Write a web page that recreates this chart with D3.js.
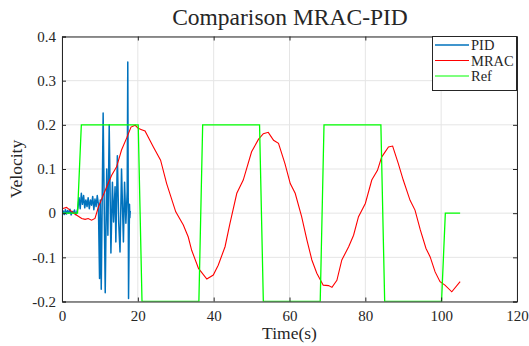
<!DOCTYPE html>
<html><head><meta charset="utf-8">
<script src="https://cdn.jsdelivr.net/npm/d3@7"></script>
<style>body{margin:0;background:#fff}svg text{font-family:"Liberation Serif","DejaVu Serif",serif;fill:#262626}</style>
</head><body><svg id="c" width="529" height="346"></svg>
<script>
const xTicks=[0,20,40,60,80,100,120];
const yTicks=[-0.2,-0.1,0,0.1,0.2,0.3,0.4];
const yTickLabels=["-0.2","-0.1","0","0.1","0.2","0.3","0.4"];
const seriesNames=["PID","MRAC","Ref"];
const pidT=[0,0.3,0.6,0.9,1.2,1.5,1.8,2.1,2.4,2.7,3.0,3.3,3.6,3.9,4.2,4.5,4.8,5.1,5.4,5.7,6.0,6.3,6.6,6.9,7.2,7.5,7.8,8.1,8.4,8.7,9.0,9.3,9.6,9.9,10.1,10.35,10.85,11.4,11.8,12.1,12.45,12.9,13.3,13.6,14.0,14.2,14.6,14.95,15.3,15.7,16.2,16.5,16.85,17.2,17.35,17.55,17.8,17.9,18.0];
const pidV=[0,0.005,-0.003,0.008,-0.002,0.006,0,0.009,-0.004,0.004,0,0.007,-0.003,0.002,0.012,0.035,0.01,0.045,0.02,0.04,0.012,0.03,0.015,0.035,0.01,0.03,0.018,0.038,0.008,0.032,0.015,0.04,0.02,-0.148,0.03,-0.172,0.227,-0.18,0.10,-0.05,0.2,-0.09,0.07,-0.02,0.06,-0.065,0.13,-0.02,-0.088,0.10,-0.065,0.07,-0.023,0.05,0.342,-0.193,0.02,-0.01,0.005];
const mracT=[0,1.2,2.1,3.4,5.2,6.1,6.9,7.8,8.7,9.6,10.5,11.8,13.1,14.4,15.7,17.1,18.2,19.3,20.1,21.0,21.9,24.1,26.0,27.6,30.0,32.0,33.3,34.2,36.0,38.2,39.9,41.2,43.0,44.3,46.1,47.8,50.0,51.8,53.1,54.4,55.8,57.1,58.8,60.2,61.5,63.2,64.6,65.9,67.2,68.9,70.3,71.2,72.5,73.8,75.6,76.9,78.2,80.0,81.7,83.2,84.3,86.1,87.2,88.7,90.0,91.8,93.1,94.5,96.0,97.1,98.4,99.7,101.0,102.8,105.0];
const mracV=[0.01,0.013,0.007,-0.002,-0.012,-0.014,-0.012,-0.016,-0.012,0.014,0.033,0.06,0.086,0.105,0.143,0.171,0.195,0.199,0.192,0.189,0.186,0.15,0.12,0.067,0.003,-0.027,-0.054,-0.084,-0.125,-0.149,-0.14,-0.118,-0.076,-0.023,0.045,0.075,0.139,0.167,0.18,0.183,0.165,0.158,0.112,0.067,0.045,-0.008,-0.061,-0.106,-0.136,-0.163,-0.164,-0.168,-0.152,-0.106,-0.076,-0.05,-0.008,0.022,0.075,0.097,0.127,0.15,0.152,0.112,0.075,0.029,0.007,-0.038,-0.08,-0.099,-0.133,-0.155,-0.163,-0.178,-0.155];
const refT=[0,4.1,5.1,20.1,21.1,36.1,37.1,52.1,53.1,68.1,69.1,84.1,85.1,100.1,101.1,105];
const refV=[0,0,0.2,0.2,-0.2,-0.2,0.2,0.2,-0.2,-0.2,0.2,0.2,-0.2,-0.2,0,0];

const svg=d3.select("#c");
const L=62,R=517,T=36.5,B=301.5;
const x=d3.scaleLinear().domain([0,120]).range([L,R]);
const y=d3.scaleLinear().domain([-0.2,0.4]).range([B,T]);
const ax="#262626";
const FF="'Liberation Serif', 'DejaVu Serif', serif";
const g=svg.append("g");
g.selectAll(".gx").data(xTicks).join("line").attr("x1",d=>x(d)).attr("x2",d=>x(d)).attr("y1",T).attr("y2",B).attr("stroke","#e5e5e5").attr("stroke-width",1);
g.selectAll(".gy").data(yTicks).join("line").attr("y1",d=>y(d)).attr("y2",d=>y(d)).attr("x1",L).attr("x2",R).attr("stroke","#e5e5e5").attr("stroke-width",1);
svg.append("clipPath").attr("id","cp").append("rect").attr("x",L).attr("y",T).attr("width",R-L).attr("height",B-T);
const line=d3.line().x(d=>x(d[0])).y(d=>y(d[1]));
const plot=svg.append("g").attr("clip-path","url(#cp)");
plot.append("path").datum(pidT.map((t,i)=>[t,pidV[i]])).attr("d",line).attr("fill","none").attr("stroke","#0072BD").attr("stroke-width",1.5).attr("stroke-linejoin","round");
plot.append("path").datum(mracT.map((t,i)=>[t,mracV[i]])).attr("d",line).attr("fill","none").attr("stroke","#FF0000").attr("stroke-width",1.1);
plot.append("path").datum(refT.map((t,i)=>[t,refV[i]])).attr("d",line).attr("fill","none").attr("stroke","#00FF00").attr("stroke-width",1.3);
const xb=svg.append("g").attr("transform",`translate(0,${B})`).call(d3.axisBottom(x).tickValues(xTicks).tickSize(-4).tickPadding(9));
const xt=svg.append("g").attr("transform",`translate(0,${T})`).call(d3.axisTop(x).tickValues(xTicks).tickSize(-4).tickFormat(""));
const yl=svg.append("g").attr("transform",`translate(${L},0)`).call(d3.axisLeft(y).tickValues(yTicks).tickSize(-4).tickPadding(6).tickFormat((d,i)=>yTickLabels[i]));
const yr=svg.append("g").attr("transform",`translate(${R},0)`).call(d3.axisRight(y).tickValues(yTicks).tickSize(-4).tickFormat(""));
[xb,xt,yl,yr].forEach(a=>{a.attr("font-family",FF).attr("font-size",15);a.select(".domain").attr("stroke",ax);a.selectAll(".tick line").attr("stroke",ax);a.selectAll("text").attr("fill",ax).style("font-family",FF).style("font-size","15px");});
svg.append("text").attr("x",(L+R)/2+0.5).attr("y",25).attr("text-anchor","middle").style("font-size","23.5px").text("Comparison MRAC-PID");
svg.append("text").attr("x",(L+R)/2).attr("y",339).attr("text-anchor","middle").style("font-size","17.5px").text("Time(s)");
svg.append("text").attr("transform",`translate(22,${(T+B)/2}) rotate(-90)`).attr("text-anchor","middle").style("font-size","17.5px").text("Velocity");
const lg=svg.append("g");
lg.append("rect").attr("x",432.5).attr("y",36.5).attr("width",84).attr("height",54).attr("fill","#fff").attr("stroke",ax).attr("stroke-width",1);
const lc=["#0072BD","#FF0000","#00FF00"];
seriesNames.forEach((n,i)=>{
  const yy=45+i*15.5;
  lg.append("line").attr("x1",435).attr("x2",469).attr("y1",yy).attr("y2",yy).attr("stroke",lc[i]).attr("stroke-width",i==0?1.5:1.2);
  lg.append("text").attr("x",471).attr("y",yy+5).style("font-size","14.5px").text(n);
});
</script></body></html>
